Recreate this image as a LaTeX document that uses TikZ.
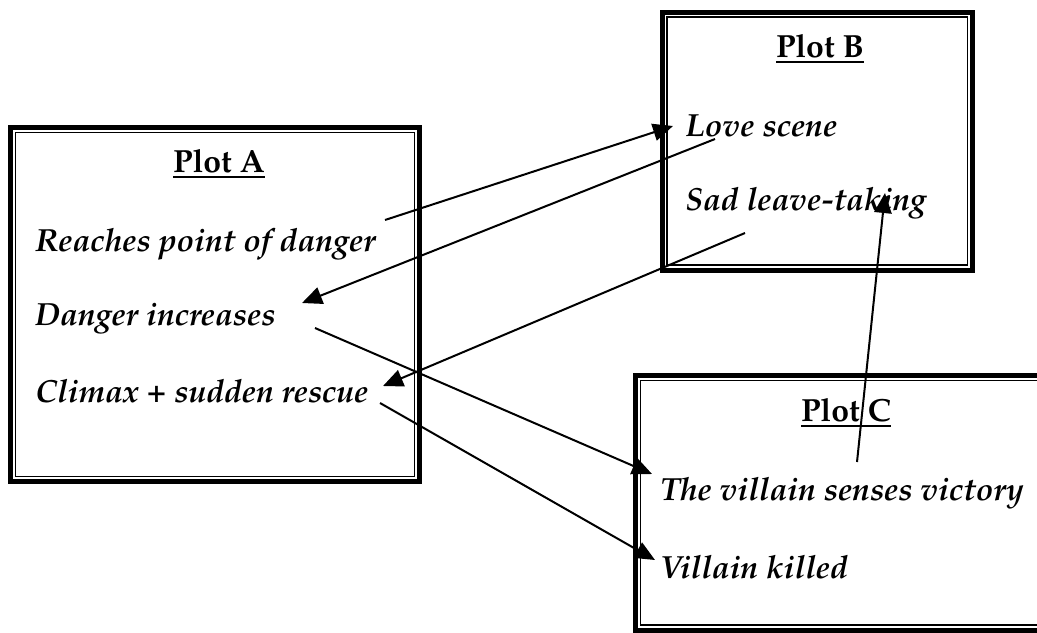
\documentclass[tikz,border=0pt]{standalone}
\usepackage[T1]{fontenc}
\usepackage{mathpazo}
\usetikzlibrary{arrows.meta}
\newcommand{\myul}[1]{\setbox0\hbox{#1}\rlap{\rule[-4.5pt]{\wd0}{1.8pt}}\box0}
\begin{document}
\begin{tikzpicture}[x=0.75pt,y=-0.75pt,
  outerline/.style={line width=3.75pt},
  innerline/.style={line width=0.8pt},
  txt/.style={anchor=base west, inner sep=0pt, font=\fontsize{24}{28}\selectfont\bfseries\itshape},
  ttl/.style={anchor=base, inner sep=0pt, font=\fontsize{24}{28}\selectfont\bfseries},
  conn/.style={line width=1.5pt, -{Triangle[length=15pt,width=13pt]}}]
\useasboundingbox (0,0) rectangle (1037,632);
\clip (0,0) rectangle (1037,632);
% Plot A frame
\coordinate (A1) at (10.5,127.5); \coordinate (A2) at (419.5,481.5);
\draw[outerline] (A1) rectangle (A2);
\draw[innerline] ([shift={(5,5)}]A1) rectangle ([shift={(-5,-5)}]A2);
% Plot B frame
\coordinate (B1) at (662,12); \coordinate (B2) at (972.5,270);
\draw[outerline] (B1) rectangle (B2);
\draw[innerline] ([shift={(5,5)}]B1) rectangle ([shift={(-5,-5)}]B2);
% Plot C frame
\coordinate (C1) at (635.5,375.5); \coordinate (C2) at (1050,630);
\draw[outerline] (C1) rectangle (C2);
\draw[innerline] ([shift={(5,5)}]C1) rectangle ([shift={(-5,-5)}]C2);
% texts
\node[ttl] (ta) at (219,172) {\myul{Plot A}};
\node[txt] (a1) at (35,251) {Reaches point of danger};
\node[txt] (a2) at (35,325) {Danger increases};
\node[txt] (a3) at (35,402) {Climax \textup{+} sudden rescue};
\node[ttl] (tb) at (820,57) {\myul{Plot B}};
\node[txt] (b1) at (685,136) {Love scene};
\node[txt] (b2) at (685,210) {Sad leave-taking};
\node[ttl] (tc) at (846,421) {\myul{Plot C}};
\node[txt] (c1) at (660,500) {The villain senses victory};
\node[txt] (c2) at (660,578) {Villain killed};
% connector ends
\coordinate (s1) at (385,220); \coordinate (e1) at (673,126);
\coordinate (s2) at (715,139); \coordinate (e2) at (302,303);
\coordinate (s3) at (745,233); \coordinate (e3) at (383,386);
\coordinate (s4) at (315,328); \coordinate (e4) at (652,474);
\coordinate (s5) at (380,403); \coordinate (e5) at (655,560);
\coordinate (s6) at (857,462); \coordinate (e6) at (885,193);
\draw[conn] (s1) -- (e1);
\draw[conn] (s2) -- (e2);
\draw[conn] (s3) -- (e3);
\draw[conn] (s4) -- (e4);
\draw[conn] (s5) -- (e5);
\draw[conn] (s6) -- (e6);
\end{tikzpicture}
\end{document}
